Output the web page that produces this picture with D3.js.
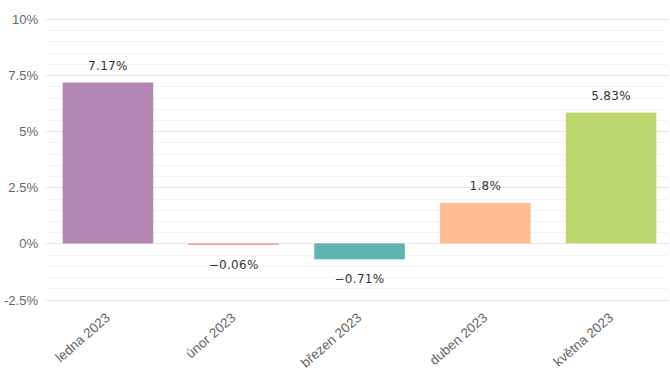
<!DOCTYPE html>
<html><head><meta charset="utf-8">
<script src="https://cdn.jsdelivr.net/npm/d3@7"></script>
<style>body{margin:0;background:#fff}svg{display:block}</style>
</head><body>
<svg id="c" width="670" height="379"></svg>
<script>
const categories = ["ledna 2023","únor 2023","březen 2023","duben 2023","května 2023"];
const values = [7.17, -0.06, -0.71, 1.8, 5.83];
const colors = ["#b286b2","#e89c9c","#5fb5b2","#ffbd94","#bdd66e"];
const yTicks = [-2.5, 0, 2.5, 5, 7.5, 10];
const minorTicks = d3.range(-2.5, 10.01, 0.5);

const svg = d3.select("#c");
const x = d3.scaleBand().domain(categories).range([45, 674]).paddingInner(0.28).paddingOuter(0.14);
const y = d3.scaleLinear().domain([-2.5, 10]).range([299.5, 19]);
const gx0 = 45, gx1 = 668;

svg.append("g").selectAll("line").data(minorTicks).join("line")
  .attr("x1", gx0).attr("x2", gx1)
  .attr("y1", d => Math.round(y(d)) + 0.5).attr("y2", d => Math.round(y(d)) + 0.5)
  .attr("stroke", "#f3f3f3").attr("stroke-width", 1);
svg.append("g").selectAll("line").data(yTicks).join("line")
  .attr("x1", gx0).attr("x2", gx1)
  .attr("y1", d => Math.round(y(d)) + 0.5).attr("y2", d => Math.round(y(d)) + 0.5)
  .attr("stroke", "#e5e5e5").attr("stroke-width", 1);

const fmt = d => String(d) + "%";
svg.append("g").selectAll("text").data(yTicks).join("text")
  .attr("x", 38).attr("y", d => y(d) + 5)
  .attr("text-anchor", "end")
  .attr("font-family", "Liberation Sans, Arial, sans-serif")
  .attr("font-size", 13).attr("fill", "#666")
  .text(fmt);

svg.append("g").selectAll("rect").data(values).join("rect")
  .attr("x", (d, i) => x(categories[i]))
  .attr("width", x.bandwidth())
  .attr("y", d => y(Math.max(0, d)))
  .attr("height", d => Math.max(1.5, Math.abs(y(d) - y(0))))
  .attr("fill", (d, i) => colors[i]);

svg.append("g").selectAll("text").data(values).join("text")
  .attr("x", (d, i) => x(categories[i]) + x.bandwidth() / 2)
  .attr("y", d => d >= 0 ? y(d) - 13 : y(d) + 24)
  .attr("text-anchor", "middle")
  .attr("font-family", "DejaVu Sans, sans-serif")
  .attr("font-size", 12).attr("fill", "#333")
  .attr("letter-spacing", 0.3)
  .text(d => (d < 0 ? "\u2212" + Math.abs(d) : d) + "%");

svg.append("g").selectAll("text").data(categories).join("text")
  .attr("transform", d => `translate(${x(d) + x.bandwidth() / 2 + 3},${319}) rotate(-41)`)
  .attr("text-anchor", "end")
  .attr("font-family", "Liberation Sans, Arial, sans-serif")
  .attr("font-size", 13.5).attr("fill", "#666")
  .text(d => d);
</script>
</body></html>
